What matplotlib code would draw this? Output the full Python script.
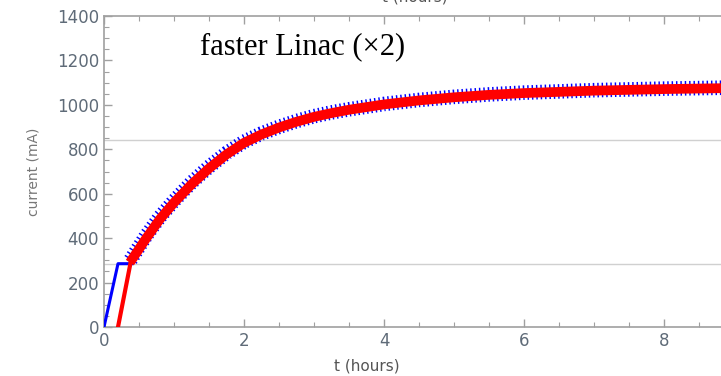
import matplotlib
matplotlib.use("Agg")
import matplotlib.pyplot as plt
from matplotlib.ticker import MultipleLocator

# ramp-up segments (mA vs hours)
blue_ramp_t = [0.0, 0.2, 0.4]
blue_ramp_i = [0, 285, 285]
red_ramp_t = [0.2, 0.38]
red_ramp_i = [0, 290]

# saturating part
blue_t = [0.38, 0.6, 0.8, 1.0, 1.25, 1.5, 1.75, 2.0, 2.25, 2.5, 2.75, 3.0, 3.25, 3.5,
          4.0, 4.5, 5.0, 5.5, 6.0, 7.0, 8.0, 8.82]
blue_i = [302, 410, 496, 568, 650, 721, 783, 834, 871, 901, 927, 949, 966, 980,
          1004, 1022, 1036, 1047, 1055, 1066, 1073, 1077]
red_t = [0.37, 0.6, 0.8, 1.0, 1.25, 1.5, 1.75, 2.0, 2.25, 2.5, 2.75, 3.0, 3.25, 3.5,
         4.0, 4.5, 5.0, 5.5, 6.0, 7.0, 8.0, 8.82]
red_i = [290, 398, 486, 560, 642, 714, 777, 829, 867, 898, 924, 946, 963, 978,
         1002, 1020, 1034, 1045, 1053, 1064, 1071, 1075]

grid_levels = [284, 840]
x_ticks = [0, 2, 4, 6, 8]
y_ticks = [0, 200, 400, 600, 800, 1000, 1200, 1400]

LABEL_COLOR = '#5f6b78'
SPINE_COLOR = '#a0a0a0'

fig = plt.figure(figsize=(7.21, 3.76), dpi=100)
ax = fig.add_axes([104 / 721, 49 / 376, 617 / 721, 311 / 376])

for g in grid_levels:
    ax.axhline(g, color='#d0d0d0', linewidth=1.0, zorder=1)

ax.plot(blue_ramp_t, blue_ramp_i, color='#0000ff', linewidth=2.2, zorder=3)
ax.plot(red_ramp_t, red_ramp_i, color='#ff0000', linewidth=3.0, zorder=4)
ax.plot(blue_t, blue_i, color='#0000ff', linewidth=10.5, dashes=(0.1, 0.2),
        solid_capstyle='butt', dash_capstyle='butt', zorder=3)
ax.plot(red_t, red_i, color='#ff0000', linewidth=7.0, solid_capstyle='butt', zorder=4)

ax.set_xlim(0, 617 / 70)
ax.set_ylim(0, 1400)
ax.set_xticks(x_ticks)
ax.set_yticks(y_ticks)
ax.xaxis.set_minor_locator(MultipleLocator(0.5))
ax.yaxis.set_minor_locator(MultipleLocator(50))

ax.spines['right'].set_visible(False)
for s in ['left', 'bottom', 'top']:
    ax.spines[s].set_color(SPINE_COLOR)
    ax.spines[s].set_linewidth(1.2)

ax.tick_params(which='both', direction='in', top=True, right=False, color=SPINE_COLOR,
               labelcolor=LABEL_COLOR, labelsize=12)
ax.tick_params(which='major', length=6, width=1)
ax.tick_params(which='minor', length=3.5, width=0.8)
for lab in ax.get_xticklabels() + ax.get_yticklabels():
    lab.set_family('DejaVu Sans')

ax.set_xlabel('t (hours)', color='#555555', fontsize=11)
ax.xaxis.set_label_coords((367 - 104) / 617, -0.1)
ax.set_ylabel('current (mA)', color='#777777', fontsize=10, labelpad=12)

# clipped frame label at the very top of the picture
fig.text(415 / 721, 1 - 4 / 376, 't (hours)', ha='center', va='bottom',
         color='#555555', fontsize=11)

ax.text(0.155, 0.9, 'faster Linac (\u00d72)', transform=ax.transAxes,
        family='Liberation Serif', fontsize=22, color='black', va='center', ha='left')

fig.savefig('out.png', dpi=100)
